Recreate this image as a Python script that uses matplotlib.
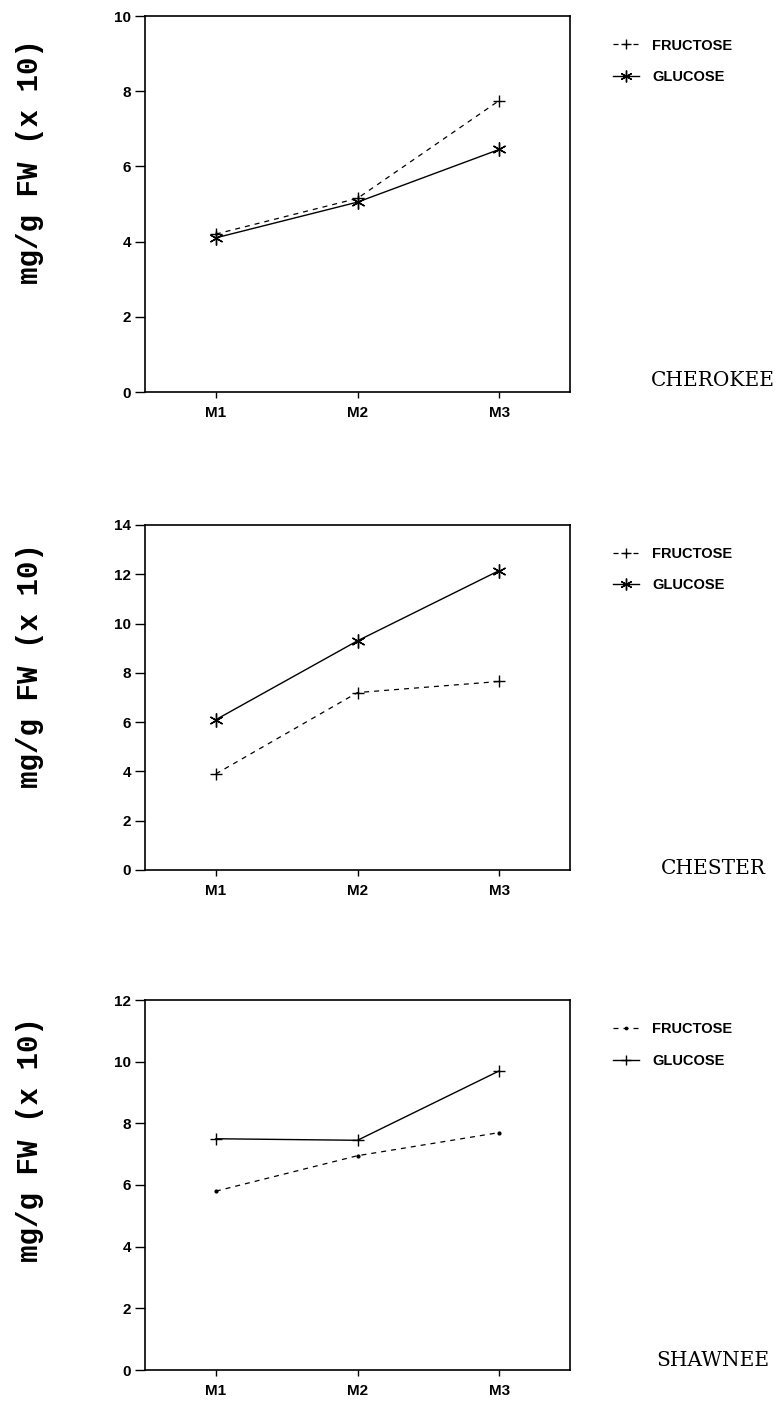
"""
Fructose and glucose content (mg/g FW x 10) at three maturity stages
for three cultivars: Cherokee, Chester and Shawnee.
"""

import matplotlib.pyplot as plt

W, H = 776, 1426

stages = ["M1", "M2", "M3"]
cultivars = ["CHEROKEE", "CHESTER", "SHAWNEE"]

cherokee_fructose = [4.2, 5.15, 7.75]
cherokee_glucose = [4.1, 5.05, 6.45]
chester_fructose = [3.9, 7.2, 7.65]
chester_glucose = [6.1, 9.3, 12.15]
shawnee_fructose = [5.8, 6.95, 7.7]
shawnee_glucose = [7.5, 7.45, 9.7]

y_max = [10, 14, 12]
y_step = 2

# pixel boxes of each panel (top, bottom)
panels = [(16, 392), (525, 870), (1000, 1370)]
ylabel_y = [162, 665, 1140]
name_y = [380, 868, 1360]

# marker per series per panel  (fructose, glucose)
asterisk = (6, 2, 0)
markers = [("+", asterisk), ("+", asterisk), (".", "+")]

series = [(cherokee_fructose, cherokee_glucose),
          (chester_fructose, chester_glucose),
          (shawnee_fructose, shawnee_glucose)]

TICK_FONT = dict(family="Liberation Sans", weight="bold", size=11)

fig = plt.figure(figsize=(W / 100, H / 100), dpi=100)

x = [1, 2, 3]
for i, (top, bot) in enumerate(panels):
    left, right = 145, 570
    ax = fig.add_axes([left / W, 1 - bot / H, (right - left) / W, (bot - top) / H])
    fru, glu = series[i]
    m_fru, m_glu = markers[i]
    ax.plot(x, fru, color="black", lw=0.9, ls=(0, (4, 4)), marker=m_fru,
            ms=9 if m_fru == "+" else 4, mew=1.0, label="FRUCTOSE")
    ax.plot(x, glu, color="black", lw=1.0, ls="-", marker=m_glu,
            ms=10 if m_glu == asterisk else 9, mew=1.0, label="GLUCOSE")

    ax.set_xlim(0.5, 3.5)
    ax.set_ylim(0, y_max[i])
    ax.set_xticks(x)
    ax.set_xticklabels(stages, fontdict=TICK_FONT)
    ax.set_yticks(range(0, y_max[i] + 1, y_step))
    ax.set_yticklabels([str(v) for v in range(0, y_max[i] + 1, y_step)],
                       fontdict=TICK_FONT)
    ax.tick_params(axis="y", direction="out", length=7, width=1, pad=3)
    ax.tick_params(axis="x", direction="out", length=4, width=1, pad=6)
    for s in ax.spines.values():
        s.set_linewidth(1.2)

    ax.legend(loc="upper left", bbox_to_anchor=(1.07, 0.975), frameon=False,
              handlelength=1.8, handletextpad=0.9, labelspacing=1.2,
              markerscale=0.85,
              prop=dict(family="Liberation Sans", weight="bold", size=10.5))

    fig.text(30 / W, 1 - ylabel_y[i] / H, "mg/g FW (x 10)", rotation=90,
             ha="center", va="center", family="Liberation Mono", weight="bold",
             size=21)
    fig.text(713 / W, 1 - name_y[i] / H, cultivars[i], ha="center", va="center",
             family="DejaVu Serif", size=14.5)

fig.savefig("out.png", dpi=100)
